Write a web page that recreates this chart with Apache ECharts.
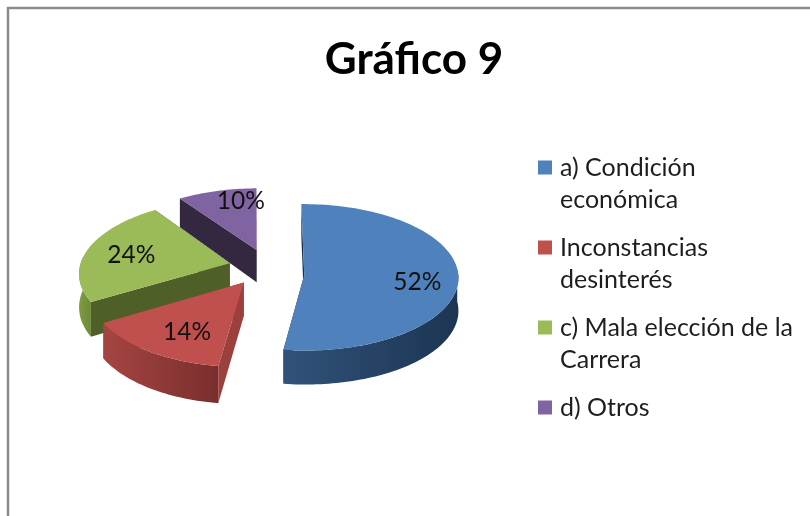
<!DOCTYPE html>
<html>
<head>
<meta charset="utf-8">
<style>html,body{margin:0;padding:0;background:#fff}#c{width:810px;height:516px}</style>
<script src="https://cdn.jsdelivr.net/npm/echarts@6/dist/echarts.min.js"></script>
</head>
<body>
<div id="c"></div>
<script>
// Data
const titleText = 'Gráfico 9';
const categories = ['a) Condición económica', 'Inconstancias desinterés', 'c) Mala elección de la Carrera', 'd) Otros'];
const legendLines = [['a) Condición', 'económica'], ['Inconstancias', 'desinterés'], ['c) Mala elección de la', 'Carrera'], ['d) Otros']];
const shares = [52.4, 14.4, 23.5, 9.7];

// Look
const topColors = ['#4f81bd', '#c0504d', '#9bbb59', '#8064a2'];
const wallFrom = ['#31527a', '#a54542', '#7f9c43', '#4a3a60'];
const wallTo = ['#1c3552', '#792e2d', '#6d8838', '#3c2f50'];
const cutColors = ['#1b3350', '#9c403e', '#4f5f28', '#33283f'];

// 3D projection settings
const center = [267, 268], startAngle = -0.7, explode = 37.3, depth = 33;
const radii = [154, 150, 150, 153], squash = [0.475, 0.49, 0.49, 0.49];
const perspective = [0.03, 0.105, 0.12, 0.12];
const nudge = [[0, 6], [-2, -1], [-1, -1], [1, -1]];
const labelFraction = [0.74, 0.66, 0.67, 0.78], labelShift = [[-1, 4], [4, 5], [-3, 2], [16, -1]];
const drawZ = [3, 4, 3, 2];

const rad = d => d * Math.PI / 180;
const total = shares.reduce((a, b) => a + b, 0);
const spans = [];
shares.reduce((acc, v) => { const e = acc + v / total * 360; spans.push([acc, e]); return e; }, startAngle);

function projector(i) {
  const mid = (spans[i][0] + spans[i][1]) / 2;
  const ex = explode * Math.sin(rad(mid)), ey = -explode * Math.cos(rad(mid));
  return (deg, frac) => {
    const R = radii[i];
    const X = ex + R * frac * Math.sin(rad(deg)), Y = ey - R * frac * Math.cos(rad(deg));
    const s = 1 + perspective[i] * Y / R;
    return [center[0] + nudge[i][0] + X * s, center[1] + nudge[i][1] + Y * squash[i] * s, s];
  };
}
function arcPts(P, a, b) {
  const n = Math.max(2, Math.ceil(Math.abs(b - a) / 1.5)), out = [];
  for (let k = 0; k <= n; k++) out.push(P(a + (b - a) * k / n, 1));
  return out;
}
const drop = p => [p[0], p[1] + depth * p[2]];
const xy = p => [p[0], p[1]];

function renderSlice(i) {
  const P = projector(i), [a, b] = spans[i];
  const apex = P(a, 0), c1 = P(a, 1), c2 = P(b, 1);
  const children = [];
  const cut = (c) => ({ type: 'polygon', shape: { points: [xy(apex), xy(c), drop(c), drop(apex)] }, style: { fill: cutColors[i] }, z2: 1 });
  children.push(cut(c1), cut(c2));
  const fa = Math.max(a, 85), fb = Math.min(b, 275);
  if (fb > fa) {
    const arc = arcPts(P, fa, fb);
    children.push({
      type: 'polygon',
      shape: { points: arc.map(xy).concat(arc.map(drop).reverse()) },
      style: { fill: { type: 'linear', x: 1, y: 0, x2: 0, y2: 0, colorStops: [{ offset: 0, color: wallTo[i] }, { offset: 1, color: wallFrom[i] }] } },
      z2: 2
    });
  }
  children.push({
    type: 'polygon',
    shape: { points: [xy(apex)].concat(arcPts(P, a, b).map(xy)) },
    style: { fill: topColors[i] },
    z2: 3
  });
  const mid = (a + b) / 2, lp = P(mid, labelFraction[i]);
  children.push({
    type: 'text',
    style: {
      text: Math.round(shares[i]) + '%', x: lp[0] + labelShift[i][0], y: lp[1] + labelShift[i][1],
      align: 'center', verticalAlign: 'middle', fill: '#111',
      font: '24.5px Lato'
    },
    z2: 10
  });
  return { type: 'group', children };
}

const rich = { t: { fontFamily: 'Lato', fontSize: 25, color: '#1e1e1e', lineHeight: 32 }, pad: { width: 22, height: 14, lineHeight: 32 } };
topColors.forEach((c, i) => { rich['k' + i] = { width: 14, height: 14, backgroundColor: c, lineHeight: 32 }; rich['g' + i] = { width: 8, height: 14, lineHeight: 32 }; });

const chart = echarts.init(document.getElementById('c'), null, { renderer: 'canvas' });
chart.setOption({
  animation: false,
  backgroundColor: '#ffffff',
  title: {
    text: titleText, left: 409, top: 33, textAlign: 'center',
    textStyle: { fontFamily: 'Lato', fontWeight: 'bold', fontSize: 44, color: '#000' }
  },
  legend: {
    orient: 'vertical', left: 528, top: 150, icon: 'none', itemWidth: 0, itemHeight: 14, itemGap: 23,
    selectedMode: false, align: 'left',
    data: categories,
    formatter: name => {
      const i = categories.indexOf(name), ls = legendLines[i];
      return `{k${i}|}{g${i}|}{t|${ls[0]}}` + (ls[1] ? `\n{pad|}{t|${ls[1]}}` : '');
    },
    textStyle: { rich }
  },
  graphic: [{
    type: 'polyline', silent: true,
    shape: { points: [[8, 516], [8, 8], [810, 8]] },
    style: { stroke: '#8c8c8c', lineWidth: 2.5, fill: null }
  }],
  series: categories.map((name, i) => ({
    type: 'custom', name, coordinateSystem: 'none', z: drawZ[i],
    data: [[shares[i]]],
    renderItem: () => renderSlice(i),
    silent: true
  }))
});
</script>
</body>
</html>
